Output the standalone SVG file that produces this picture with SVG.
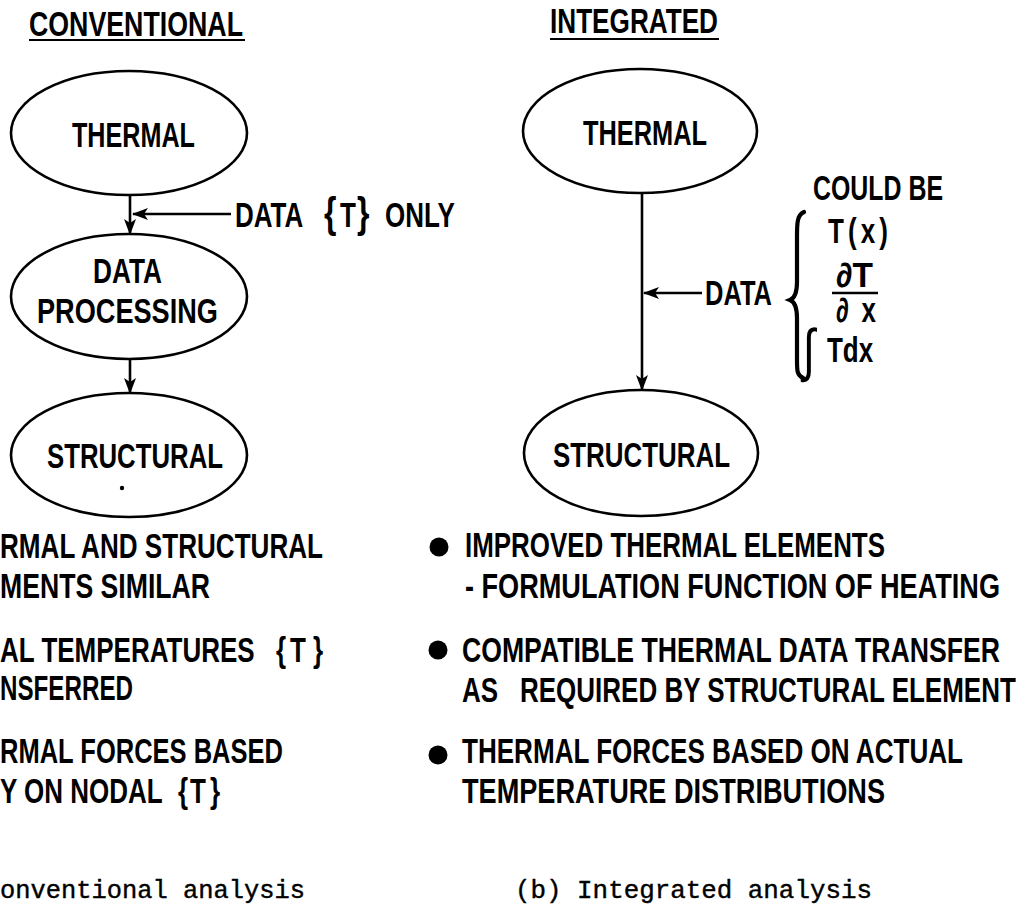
<svg xmlns="http://www.w3.org/2000/svg" width="1029" height="910" viewBox="0 0 1029 910">
<style>
.t{font-family:"Liberation Sans",Arial,sans-serif;font-weight:bold;font-size:26px;fill:#000}
.m{font-family:"Liberation Mono","Courier New",monospace;font-size:25px;fill:#000;stroke:#000;stroke-width:0.4}
.n{fill:#fff;stroke:#000;stroke-width:2.6}
.c{stroke:#000;stroke-width:2.6;fill:none}
.u{stroke:#000;stroke-width:2}
</style>
<defs>
<marker id="ah" viewBox="0 0 16 12" refX="15" refY="6" markerWidth="16" markerHeight="12" markerUnits="userSpaceOnUse" orient="auto">
<path d="M0,0 L16,6 L0,12 L4,6 Z" fill="#000"/>
</marker>
</defs>
<rect width="1029" height="910" fill="#fff"/>

<g id="headers">
<text class="t" x="29" y="36" transform="matrix(1 0 0 1.32 0 -11.52)" textLength="214" lengthAdjust="spacingAndGlyphs">CONVENTIONAL</text>
<line class="u" x1="29" y1="40" x2="245" y2="40"/>
<text class="t" x="550" y="33" transform="matrix(1 0 0 1.32 0 -10.56)" textLength="168" lengthAdjust="spacingAndGlyphs">INTEGRATED</text>
<line class="u" x1="550" y1="39" x2="719" y2="39"/>
</g>

<g id="connectors">
<line class="c" x1="130" y1="195" x2="130" y2="234" marker-end="url(#ah)"/>
<line class="c" x1="231" y1="214" x2="133" y2="214" marker-end="url(#ah)"/>
<line class="c" x1="130" y1="359" x2="130" y2="393" marker-end="url(#ah)"/>
<line class="c" x1="642" y1="193" x2="642" y2="390" marker-end="url(#ah)"/>
<line class="c" x1="702" y1="293" x2="644" y2="293" marker-end="url(#ah)"/>
</g>

<g id="left-thermal">
<ellipse class="n" cx="129" cy="133" rx="118" ry="62"/>
<text class="t" x="72" y="147" transform="matrix(1 0 0 1.32 0 -47.04)" textLength="123" lengthAdjust="spacingAndGlyphs">THERMAL</text>
</g>
<g id="left-data-processing">
<ellipse class="n" cx="129" cy="296.5" rx="118" ry="62.5"/>
<text class="t" x="93" y="283" transform="matrix(1 0 0 1.32 0 -90.56)" textLength="69" lengthAdjust="spacingAndGlyphs">DATA</text>
<text class="t" x="37" y="323" transform="matrix(1 0 0 1.32 0 -103.36)" textLength="181" lengthAdjust="spacingAndGlyphs">PROCESSING</text>
</g>
<g id="left-structural">
<ellipse class="n" cx="129" cy="455" rx="118" ry="62"/>
<text class="t" x="47" y="468" transform="matrix(1 0 0 1.32 0 -149.76)" textLength="176" lengthAdjust="spacingAndGlyphs">STRUCTURAL</text>
<circle cx="122" cy="488" r="2.2" fill="#000"/>
</g>
<g id="left-data-label">
<text class="t" y="227" transform="matrix(1 0 0 1.32 0 -72.64)"><tspan x="235">DATA</tspan><tspan x="324" font-size="32">{</tspan><tspan x="340">T</tspan><tspan x="357" font-size="32">}</tspan><tspan x="385">ONLY</tspan></text>
</g>

<g id="right-thermal">
<ellipse class="n" cx="640" cy="131" rx="117" ry="62"/>
<text class="t" x="583" y="145" transform="matrix(1 0 0 1.32 0 -46.4)" textLength="124" lengthAdjust="spacingAndGlyphs">THERMAL</text>
</g>
<g id="right-structural">
<ellipse class="n" cx="641" cy="453" rx="117" ry="63"/>
<text class="t" x="553" y="467" transform="matrix(1 0 0 1.32 0 -149.44)" textLength="177" lengthAdjust="spacingAndGlyphs">STRUCTURAL</text>
</g>
<g id="right-data-label">
<text class="t" x="705" y="305" transform="matrix(1 0 0 1.32 0 -97.6)" textLength="67" lengthAdjust="spacingAndGlyphs">DATA</text>
<path d="M804,212 C797,215 797,224 797,236 L797,282 C797,293 795,298 790,300 C795,302 797,307 797,318 L797,360 C797,371 797,375 803,378" fill="none" stroke="#000" stroke-width="4.2" stroke-linecap="round"/>
<text class="t" x="813" y="200" transform="matrix(1 0 0 1.32 0 -64)" textLength="130" lengthAdjust="spacingAndGlyphs">COULD BE</text>
<text class="t" x="828" y="243" transform="matrix(1 0 0 1.32 0 -77.76)" textLength="60" lengthAdjust="spacing">T(x)</text>
<text class="t" x="836" y="287" transform="matrix(1 0 0 1.32 0 -91.84)" textLength="37" lengthAdjust="spacingAndGlyphs">∂T</text>
<line x1="832" y1="293" x2="878" y2="293" stroke="#000" stroke-width="2.5"/>
<text class="t" x="836" y="322" transform="matrix(1 0 0 1.32 0 -103.04)" textLength="40" lengthAdjust="spacing">∂x</text>
<text class="t" y="362" transform="matrix(1 0 0 1.32 0 -115.84)"><tspan x="803" y="368" font-size="44" font-weight="normal">∫</tspan><tspan x="827" y="362">Tdx</tspan></text>
</g>

<g id="left-notes">
<text class="t" x="0" y="558" transform="matrix(1 0 0 1.32 0 -178.56)" textLength="323" lengthAdjust="spacingAndGlyphs">RMAL AND STRUCTURAL</text>
<text class="t" x="0" y="598" transform="matrix(1 0 0 1.32 0 -191.36)" textLength="210" lengthAdjust="spacingAndGlyphs">MENTS SIMILAR</text>
<text class="t" y="662" transform="matrix(1 0 0 1.32 0 -211.84)"><tspan x="0">AL TEMPERATURES</tspan><tspan x="276">{</tspan><tspan x="290">T</tspan><tspan x="313">}</tspan></text>
<text class="t" x="0" y="700" transform="matrix(1 0 0 1.32 0 -224)" textLength="133" lengthAdjust="spacingAndGlyphs">NSFERRED</text>
<text class="t" x="0" y="763" transform="matrix(1 0 0 1.32 0 -244.16)" textLength="283" lengthAdjust="spacingAndGlyphs">RMAL FORCES BASED</text>
<text class="t" y="803" transform="matrix(1 0 0 1.32 0 -256.96)"><tspan x="0">Y ON NODAL</tspan><tspan x="178">{</tspan><tspan x="190">T</tspan><tspan x="210">}</tspan></text>
</g>

<g id="right-notes">
<circle cx="439" cy="547" r="9.5" fill="#000"/>
<text class="t" x="465" y="557" transform="matrix(1 0 0 1.32 0 -178.24)" textLength="420" lengthAdjust="spacingAndGlyphs">IMPROVED THERMAL ELEMENTS</text>
<text class="t" x="465" y="598" transform="matrix(1 0 0 1.32 0 -191.36)" textLength="535" lengthAdjust="spacingAndGlyphs">- FORMULATION FUNCTION OF HEATING</text>
<circle cx="438" cy="650" r="9.5" fill="#000"/>
<text class="t" x="462" y="662" transform="matrix(1 0 0 1.32 0 -211.84)" textLength="538" lengthAdjust="spacingAndGlyphs">COMPATIBLE THERMAL DATA TRANSFER</text>
<text class="t" y="702" transform="matrix(1 0 0 1.32 0 -224.64)"><tspan x="462">AS</tspan><tspan x="520">REQUIRED BY STRUCTURAL ELEMENT</tspan></text>
<circle cx="438" cy="755" r="9.5" fill="#000"/>
<text class="t" x="462" y="763" transform="matrix(1 0 0 1.32 0 -244.16)" textLength="501" lengthAdjust="spacingAndGlyphs">THERMAL FORCES BASED ON ACTUAL</text>
<text class="t" x="462" y="803" transform="matrix(1 0 0 1.32 0 -256.96)" textLength="423" lengthAdjust="spacingAndGlyphs">TEMPERATURE DISTRIBUTIONS</text>
</g>

<g id="captions">
<text class="m" x="0" y="898" textLength="305" lengthAdjust="spacingAndGlyphs">onventional analysis</text>
<text class="m" x="515" y="898" textLength="357" lengthAdjust="spacingAndGlyphs">(b) Integrated analysis</text>
</g>
</svg>
